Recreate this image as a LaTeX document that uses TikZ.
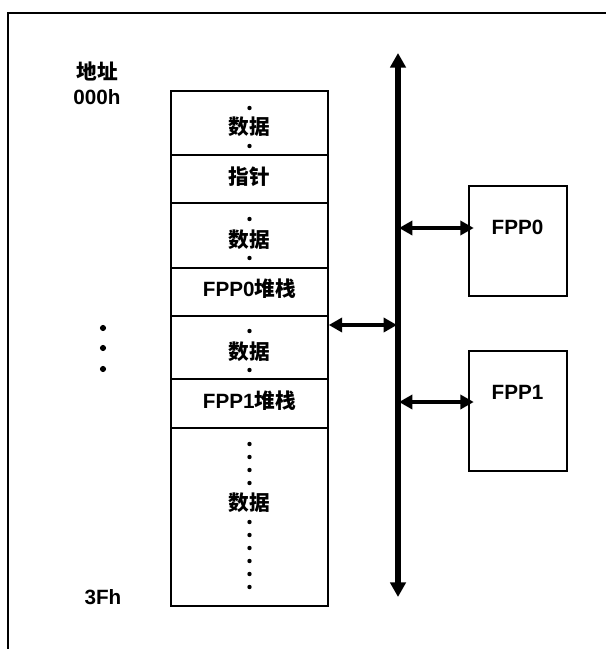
\documentclass[tikz,border=0pt]{standalone}
\usepackage{fontspec}
\setmainfont{Liberation Sans}
\newfontfamily\cjk{Noto Sans CJK SC}
\usetikzlibrary{arrows.meta}
\newcommand{\zh}[1]{{\cjk\bfseries #1}}
\begin{document}
\begin{tikzpicture}[x=0.75pt,y=-0.75pt,
  lbl/.style={inner sep=0pt, font=\bfseries\fontsize{15.5}{18}\selectfont},
  cell/.style={draw, line width=1.1pt, minimum width=117.75pt, inner sep=0pt},
  fppbox/.style={draw, line width=0.9pt, minimum width=73.5pt, inner sep=0pt},
  dotc/.style={circle, fill, inner sep=0pt, minimum size=3.3pt},
  bigdot/.style={circle, fill, inner sep=0pt, minimum size=4.6pt},
  busarrow/.style={line width=3.8pt, -{Triangle[width=11.5pt,length=11pt]}},
  harrow/.style={line width=3.2pt, {Triangle[width=10.5pt,length=10pt]}-{Triangle[width=10.5pt,length=10pt]}}
]
\useasboundingbox (0,0) rectangle (606,649);
% outer frame (cut off at right and bottom)
\draw[line width=1.5pt] (606,13) -- (8,13) -- (8,649);

% memory cells
\node[cell, minimum height=48pt]   (c1) at (249.5,123) {};
\node[cell, minimum height=36pt]   (c2) at (249.5,179) {};
\node[cell, minimum height=48.75pt](c3) at (249.5,235.5) {};
\node[cell, minimum height=36pt]   (c4) at (249.5,292) {};
\node[cell, minimum height=47.25pt](c5) at (249.5,347.5) {};
\node[cell, minimum height=36.75pt](c6) at (249.5,403.5) {};
\node[cell, minimum height=133.5pt](c7) at (249.5,517) {};

% cell texts
\node[lbl] (t1) at (249.5,127) {\zh{数据}};
\node[lbl] (t2) at (249.5,177) {\zh{指针}};
\node[lbl] (t3) at (249.5,240) {\zh{数据}};
\node[lbl] (t4) at (249.5,289) {FPP0\zh{堆栈}};
\node[lbl] (t5) at (249.5,352) {\zh{数据}};
\node[lbl] (t6) at (249.5,401) {FPP1\zh{堆栈}};
\node[lbl] (t7) at (249.5,503) {\zh{数据}};

% small dots in cells
\foreach \y in {108,146,219,258,331,370,444,457,470,483,522,535,548,561,574,587}
  \node[dotc] at (249.5,\y) {};

% left labels
\node[lbl] (addr) at (97,71) {\zh{地址}};
\node[lbl] (a0) at (97,97) {000h};
\node[lbl] (a3f) at (103,597) {3Fh};
\foreach \y in {328,348,369}
  \node[bigdot] at (103,\y) {};

% FPP boxes
\node[fppbox, minimum height=82.5pt] (fpp0) at (518,241) {};
\node[fppbox, minimum height=90pt]   (fpp1) at (518,411) {};
\node[lbl] (f0) at (517.5,227) {FPP0};
\node[lbl] (f1) at (517.5,392) {FPP1};

% bus
\coordinate (bustop) at (398,53);
\coordinate (busbot) at (398,597);
\coordinate (b0) at (398,228);
\coordinate (bm) at (398,325);
\coordinate (b1) at (398,402);
\draw[busarrow] (bustop |- c5.east) -- (bustop);
\draw[busarrow] (bustop |- c5.east) -- (busbot);

% connectors
\draw[harrow] ([xshift=0.75pt]b0) -- ([xshift=4pt]b0 -| fpp0.west);
\draw[harrow] ([xshift=0.75pt]b1) -- ([xshift=4pt]b1 -| fpp1.west);
\draw[harrow] (bm -| c5.east) -- ([xshift=-0.75pt]bm);
\end{tikzpicture}
\end{document}
